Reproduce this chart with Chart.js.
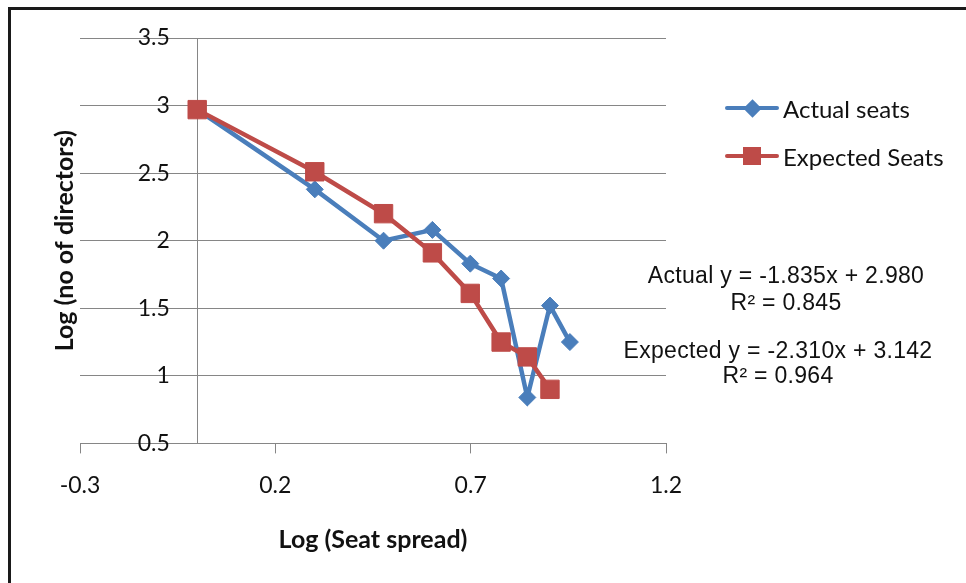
<!DOCTYPE html>
<html>
<head>
<meta charset="utf-8">
<script src="https://cdn.jsdelivr.net/npm/chart.js@4"></script>
<style>
  html, body { margin: 0; padding: 0; background: #fff; }
  #wrap { position: relative; width: 966px; height: 583px; overflow: hidden; }
  #frame { position: absolute; left: 8px; top: 7px; right: -10px; bottom: -10px;
           border-left: 3px solid #1a1a1a; border-top: 3px solid #1a1a1a; pointer-events: none; }
  canvas { position: absolute; left: 0; top: 0; }
  #legend { position: absolute; left: 725px; top: 84px; font-family: Lato, sans-serif; font-size: 24px; color: #111; }
  .item { display: flex; align-items: center; height: 48px; }
  .sym { position: relative; width: 54px; height: 24px; margin-right: 4px; }
  .sym .ln { position: absolute; left: 0; right: 0; top: 10px; height: 4px; border-radius: 2px; }
  .sym .mk { position: absolute; left: 50%; top: 50%; }
  .eq { position: absolute; font-family: "Liberation Sans", Arial, sans-serif; font-size: 23px; line-height: 24px;
        color: #111; white-space: nowrap; transform: translateX(-50%); letter-spacing: 0.3px; }
</style>
</head>
<body>
<div id="wrap">
  <canvas id="chart" width="966" height="583"></canvas>
  <div id="frame"></div>
  <div id="legend"></div>
  <div id="eqs"></div>
</div>
<script>
// log(seat spread) on x, log(no of directors) on y
const seatSpread = [0, 0.301, 0.477, 0.602, 0.699, 0.778, 0.845, 0.903, 0.954];
const actualSeats = [2.97, 2.38, 2.00, 2.08, 1.83, 1.72, 0.84, 1.52, 1.25];
const expectedSeats = [2.97, 2.51, 2.20, 1.91, 1.61, 1.25, 1.14, 0.90];
const seriesNames = ['Actual seats', 'Expected Seats'];
const xTicks = [-0.3, 0.2, 0.7, 1.2];
const yTicks = [0.5, 1, 1.5, 2, 2.5, 3, 3.5];
const trendLines = ['Actual y = -1.835x + 2.980', 'R² = 0.845', 'Expected y = -2.310x + 3.142', 'R² = 0.964'];

const blue = '#4a7ebb';
const red = '#be4b48';
const gridGray = '#868686';
const tickFont = { family: 'Lato', size: 23 };
const titleFont = { family: 'Lato', size: 25, weight: 'bold' };

function toPoints(ys) {
    return ys.map((y, i) => ({ x: seatSpread[i], y }));
}

const chart = new Chart(document.getElementById('chart'), {
    type: 'scatter',
    data: {
        datasets: [{
            label: seriesNames[0],
            data: toPoints(actualSeats),
            showLine: true,
            borderColor: blue,
            backgroundColor: blue,
            borderWidth: 4.5,
            pointStyle: 'rectRot',
            pointRadius: 8.5,
            pointBorderWidth: 1,
            order: 1
        }, {
            label: seriesNames[1],
            data: toPoints(expectedSeats),
            showLine: true,
            borderColor: red,
            backgroundColor: red,
            borderWidth: 4.5,
            pointStyle: 'rect',
            pointRadius: 13,
            pointBorderWidth: 1,
            order: 0
        }]
    },
    options: {
        responsive: false,
        animation: false,
        layout: { padding: { left: 20, right: 300, top: 38, bottom: 20 } },
        plugins: { legend: { display: false }, tooltip: { enabled: false } },
        scales: {
            x: {
                type: 'linear', position: 'bottom', min: -0.3, max: 1.2,
                afterBuildTicks: s => { s.ticks = xTicks.map(v => ({ value: v })); },
                ticks: { callback: v => String(v), font: tickFont, color: '#111', padding: 18, maxRotation: 0, autoSkip: false },
                grid: { drawOnChartArea: false, drawTicks: true, tickLength: 10, color: gridGray },
                border: { display: true, color: gridGray, width: 1 },
                title: { display: true, text: 'Log (Seat spread)', font: titleFont, color: '#111', padding: { top: 8, bottom: 8 } }
            },
            // labels sit a little left of the x = 0 axis line
            y: {
                type: 'linear', position: { x: -0.07 }, min: 0.5, max: 3.5,
                afterBuildTicks: s => { s.ticks = yTicks.map(v => ({ value: v })); },
                ticks: { callback: v => String(v), font: tickFont, color: '#111', padding: 0 },
                grid: { color: gridGray, drawTicks: false },
                border: { display: false }
            },
            yLine: {
                type: 'linear', position: { x: 0 }, min: 0.5, max: 3.5, display: true,
                ticks: { display: false },
                grid: { display: false, drawTicks: false },
                border: { display: true, color: gridGray, width: 1 }
            },
            yTitle: {
                type: 'linear', position: 'left', min: 0.5, max: 3.5, display: true,
                ticks: { display: false },
                grid: { display: false, drawTicks: false },
                border: { display: false },
                title: { display: true, text: 'Log (no of directors)', font: titleFont, color: '#111', padding: { top: 30, bottom: 0 } }
            }
        }
    }
});

// legend built from the chart's datasets, in the original order
const legend = document.getElementById('legend');
chart.data.datasets.forEach(ds => {
    const item = document.createElement('div');
    item.className = 'item';
    const sym = document.createElement('div');
    sym.className = 'sym';
    const ln = document.createElement('div');
    ln.className = 'ln';
    ln.style.background = ds.borderColor;
    const mk = document.createElement('div');
    mk.className = 'mk';
    if (ds.pointStyle === 'rectRot') {
        mk.style.cssText += 'width:13px;height:13px;margin:-6.5px 0 0 -6.5px;transform:rotate(45deg);background:' + ds.borderColor;
    } else {
        mk.style.cssText += 'width:18px;height:18px;margin:-9px 0 0 -9px;background:' + ds.borderColor;
    }
    sym.appendChild(ln);
    sym.appendChild(mk);
    const txt = document.createElement('span');
    txt.textContent = ds.label;
    item.appendChild(sym);
    item.appendChild(txt);
    legend.appendChild(item);
});

// trendline equations
const eqPos = [[786, 263], [786, 290], [778, 338], [778, 363]];
const eqs = document.getElementById('eqs');
trendLines.forEach((t, i) => {
    const d = document.createElement('div');
    d.className = 'eq';
    d.textContent = t;
    d.style.left = eqPos[i][0] + 'px';
    d.style.top = eqPos[i][1] + 'px';
    eqs.appendChild(d);
});
</script>
</body>
</html>
